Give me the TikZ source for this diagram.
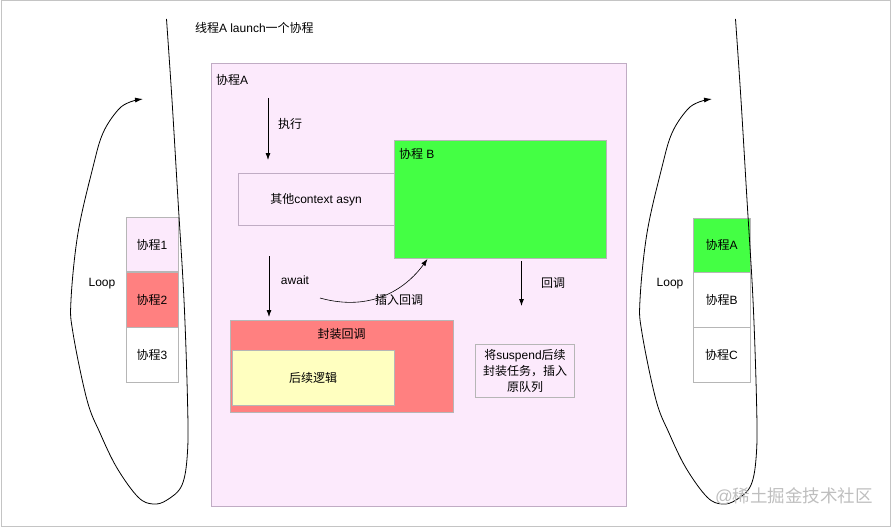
\documentclass[tikz,border=0pt]{standalone}
\usepackage{fontspec}
\setmainfont{Liberation Sans}
\newfontfamily\cjk{Noto Sans CJK SC}
\newcommand\zh[1]{{\cjk #1}}
\usetikzlibrary{arrows.meta}
\definecolor{pinkbg}{RGB}{252,234,252}
\definecolor{pinkborder}{RGB}{192,172,196}
\definecolor{boxborder}{RGB}{182,182,182}
\definecolor{greenfill}{RGB}{68,255,68}
\definecolor{redfill}{RGB}{255,128,128}
\definecolor{yellowfill}{RGB}{255,255,192}
\definecolor{framegray}{RGB}{196,196,196}
\definecolor{wmgray}{RGB}{190,190,190}
\tikzset{
  every node/.style={font=\fontsize{12}{15}\selectfont, outer sep=0pt},
  rbox/.style={draw=boxborder, line width=0.8pt, inner sep=0pt},
  arr/.style={-{Latex[length=7pt,width=5pt]}, line width=0.8pt},
  txt/.style={inner sep=0pt},
  loopcurve/.pic={
    \draw[-{Latex[length=8pt,width=5pt]}, line width=0.8pt]
      plot[smooth, tension=0.6] coordinates {(166.5,19) (172,100) (178,200) (184,300) (187.5,400) (187.5,452) (182,485) (167,500) (153,504) (138,497) (117,468) (100,433) (87,400) (73,333) (71,300) (78,233) (93,167) (103,133) (118,110) (130,102) (143,99)};
  }
}
\begin{document}
\begin{tikzpicture}[x=1pt,y=-1pt]
\useasboundingbox (0,0) rectangle (892,527);
\draw[framegray, line width=1pt] (1,1) rectangle (890.5,526);

% title
\node[txt, anchor=west] (title) at (195,27.5) {\zh{线程}A launch\zh{一个协程}};

% big coroutine A box
\node[draw=pinkborder, fill=pinkbg, line width=0.8pt, minimum width=415pt, minimum height=443pt] (coA) at (418.5,284.5) {};
\node[txt, anchor=west] (coAlabel) at (216,80) {\zh{协程}A};

% other context
\node[rbox, draw=pinkborder, fill=pinkbg, minimum width=157pt, minimum height=52pt] (ctx) at (316.5,199) {};
\node[txt] (ctxlabel) at (316,200) {\zh{其他}context asyn};

% green coroutine B
\node[rbox, fill=greenfill, minimum width=212pt, minimum height=118pt] (coB) at (500,199) {};
\node[txt, anchor=west] (coBlabel) at (399,154) {\zh{协程} B};

% red wrapper
\node[rbox, fill=redfill, minimum width=223pt, minimum height=92pt] (wrap) at (341.5,366) {};
\node[txt] (wraplabel) at (341.5,333.5) {\zh{封装回调}};
\node[rbox, fill=yellowfill, minimum width=162pt, minimum height=55pt] (follow) at (313,377.5) {\zh{后续逻辑}};

% suspend box
\node[rbox, fill=pinkbg, minimum width=99pt, minimum height=53pt, align=center, font=\fontsize{12}{16}\selectfont] (susp) at (525,370.5) {\zh{将}suspend\zh{后续}\\\zh{封装任务，插入}\\\zh{原队列}};

% arrows
\coordinate (e1) at (268,98);
\coordinate (e2) at (268,160);
\draw[arr] (e1) -- (e2);
\node[txt] (execlabel) at (290,124) {\zh{执行}};

\coordinate (a1) at (269,256);
\coordinate (a2) at (269,317);
\draw[arr] (a1) -- (a2);
\node[txt] (awaitlabel) at (295,280) {await};

\coordinate (c1) at (320,298);
\coordinate (c2) at (427.5,259);
\draw[-{Latex[length=7pt,width=5pt]}, line width=0.6pt] (c1) .. controls (370,312) and (405,290) .. (c2);
\node[txt] (insertlabel) at (399,300) {\zh{插入回调}};

\coordinate (r1) at (521.5,261);
\coordinate (r2) at (521.5,306);
\draw[arr] (r1) -- (r2);
\node[txt] (cblabel) at (553,283) {\zh{回调}};

% left stack
\node[rbox, fill=pinkbg, minimum width=52pt, minimum height=54pt] (l1) at (152,244.5) {\zh{协程}1};
\node[rbox, fill=redfill, minimum width=52pt, minimum height=55pt] (l2) at (152,299.5) {\zh{协程}2};
\node[rbox, fill=white, minimum width=52pt, minimum height=55pt] (l3) at (152,354.5) {\zh{协程}3};
\node[txt] (loopL) at (102,284) {Loop};
\pic at (0,0) {loopcurve};

% right stack
\node[rbox, fill=greenfill, minimum width=57pt, minimum height=54pt] (r1b) at (721.5,245) {\zh{协程}A};
\node[rbox, fill=white, minimum width=57pt, minimum height=55pt] (r2b) at (721.5,299.5) {\zh{协程}B};
\node[rbox, fill=white, minimum width=57pt, minimum height=55pt] (r3b) at (721.5,354.5) {\zh{协程}C};
\node[txt] (loopR) at (670,284) {Loop};
\pic at (569,0) {loopcurve};

% watermark
\node[txt, text=wmgray, font=\fontsize{17.5}{19}\selectfont] (wm) at (794,496) {@\zh{稀土掘金技术社区}};
\end{tikzpicture}
\end{document}
